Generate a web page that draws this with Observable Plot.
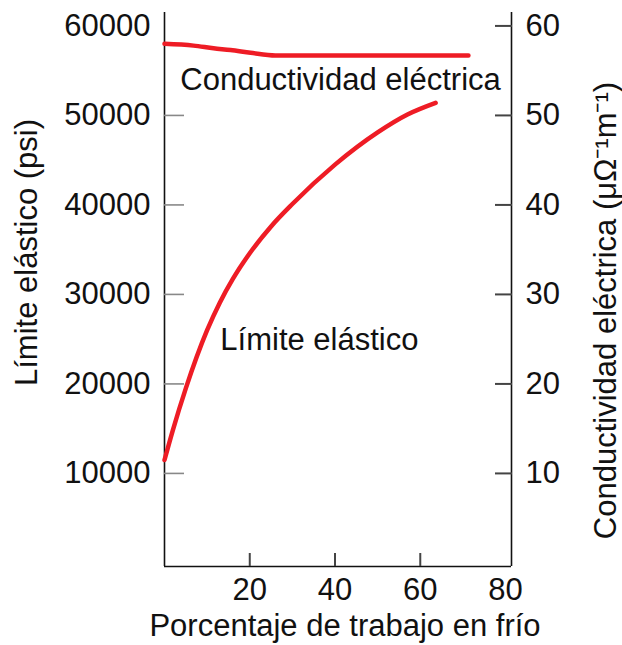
<!DOCTYPE html>
<html><head><meta charset="utf-8">
<script src="https://cdn.jsdelivr.net/npm/d3@7"></script>
<script src="https://cdn.jsdelivr.net/npm/@observablehq/plot@0.6"></script>
<style>body{margin:0;background:#fff} svg{display:block}</style>
</head><body><div id="chart"></div>
<script>
// Data
const workPct   = [0, 2, 5, 10, 13, 16, 20, 25, 30, 40, 50, 57, 63.6];
const yieldPsi  = [11500, 14900, 19500, 26000, 29100, 31700, 34600, 37600, 40100, 44500, 48100, 50100, 51400];
const condWork  = [0, 6.8, 11.5, 15.5, 20.2, 26, 71.3];
const condValue = [58.0, 57.8, 57.5, 57.3, 57.0, 56.7, 56.7];
const xTicks = [20, 40, 60, 80];
const xTickMarks = [20, 40, 60];
const leftTicks = [10000, 20000, 30000, 40000, 50000, 60000];
const leftTickMarks = [10000, 20000, 30000, 40000, 50000];
const rightTicks = [10, 20, 30, 40, 50, 60];
const seriesLabels = ["Conductividad eléctrica", "Límite elástico"];
const labelX = [3.7, 13.1];
const labelY = [53900, 24850];
const xTitle = "Porcentaje de trabajo en frío";
const yLeftTitle = "Límite elástico (psi)";
const yRightTitle = "Conductividad eléctrica (μΩ⁻¹m⁻¹)";

const xDomain = [0, 81.4];
const yDomain = [-400, 61500];
const F = 31;
const RED = "#ee1c25";
const INK = "#111";

const yieldData = workPct.map((x, i) => ({x, y: yieldPsi[i]}));
const condData = condWork.map((x, i) => ({x, y: condValue[i] * 1000}));
const labelData = seriesLabels.map((t, i) => ({text: t, x: labelX[i], y: labelY[i]}));

const chart = Plot.plot({
  width: 622, height: 645,
  marginLeft: 164, marginRight: 111, marginTop: 12, marginBottom: 79,
  style: {fontFamily: "'Liberation Sans', Arial, sans-serif", color: INK, background: "#fff"},
  x: {domain: xDomain},
  y: {domain: yDomain},
  marks: [
    Plot.ruleX([xDomain[0]], {stroke: INK, strokeWidth: 1.6}),
    Plot.ruleX([xDomain[1]], {stroke: INK, strokeWidth: 1.6}),
    Plot.ruleY([yDomain[0]], {stroke: INK, strokeWidth: 1.6}),
    Plot.axisY(leftTickMarks, {anchor: "left", tickSize: -20, fill: "none", stroke: "#888", strokeWidth: 1.6, label: null}),
    Plot.axisY(leftTicks, {anchor: "left", tickSize: 0, tickPadding: 14, fontSize: F, fill: INK, tickFormat: d => String(d), label: null}),
    Plot.axisY(rightTicks.map(v => v * 1000), {anchor: "right", tickSize: -17, fill: "none", stroke: "#444", strokeWidth: 2, label: null}),
    Plot.axisY(rightTicks.map(v => v * 1000), {anchor: "right", tickSize: 0, tickPadding: 14, fontSize: F, fill: INK, tickFormat: d => String(d / 1000), label: null}),
    Plot.axisX(xTickMarks, {anchor: "bottom", tickSize: -13, fill: "none", stroke: "#444", strokeWidth: 2, label: null}),
    Plot.axisX(xTicks, {anchor: "bottom", tickSize: 0, tickPadding: 11, fontSize: F, fill: INK, label: null}),
    Plot.line(yieldData, {x: "x", y: "y", stroke: RED, strokeWidth: 4.5, curve: "monotone-x"}),
    Plot.line(condData, {x: "x", y: "y", stroke: RED, strokeWidth: 4.5, curve: "monotone-x"}),
    Plot.text(labelData, {x: "x", y: "y", text: "text", textAnchor: "start", fontSize: F, fill: INK}),
    Plot.text([xTitle], {frameAnchor: "bottom", textAnchor: "middle", dx: 7, dy: 69, lineAnchor: "bottom", fontSize: F, fill: INK}),
    Plot.text([yLeftTitle], {frameAnchor: "left", textAnchor: "middle", rotate: -90, dx: -137, dy: -37, fontSize: F, fill: INK}),
    Plot.text([yRightTitle], {frameAnchor: "right", textAnchor: "middle", rotate: -90, dx: 95, dy: 21, fontSize: F, fill: INK})
  ]
});
document.getElementById("chart").appendChild(chart);
</script>
</body></html>
